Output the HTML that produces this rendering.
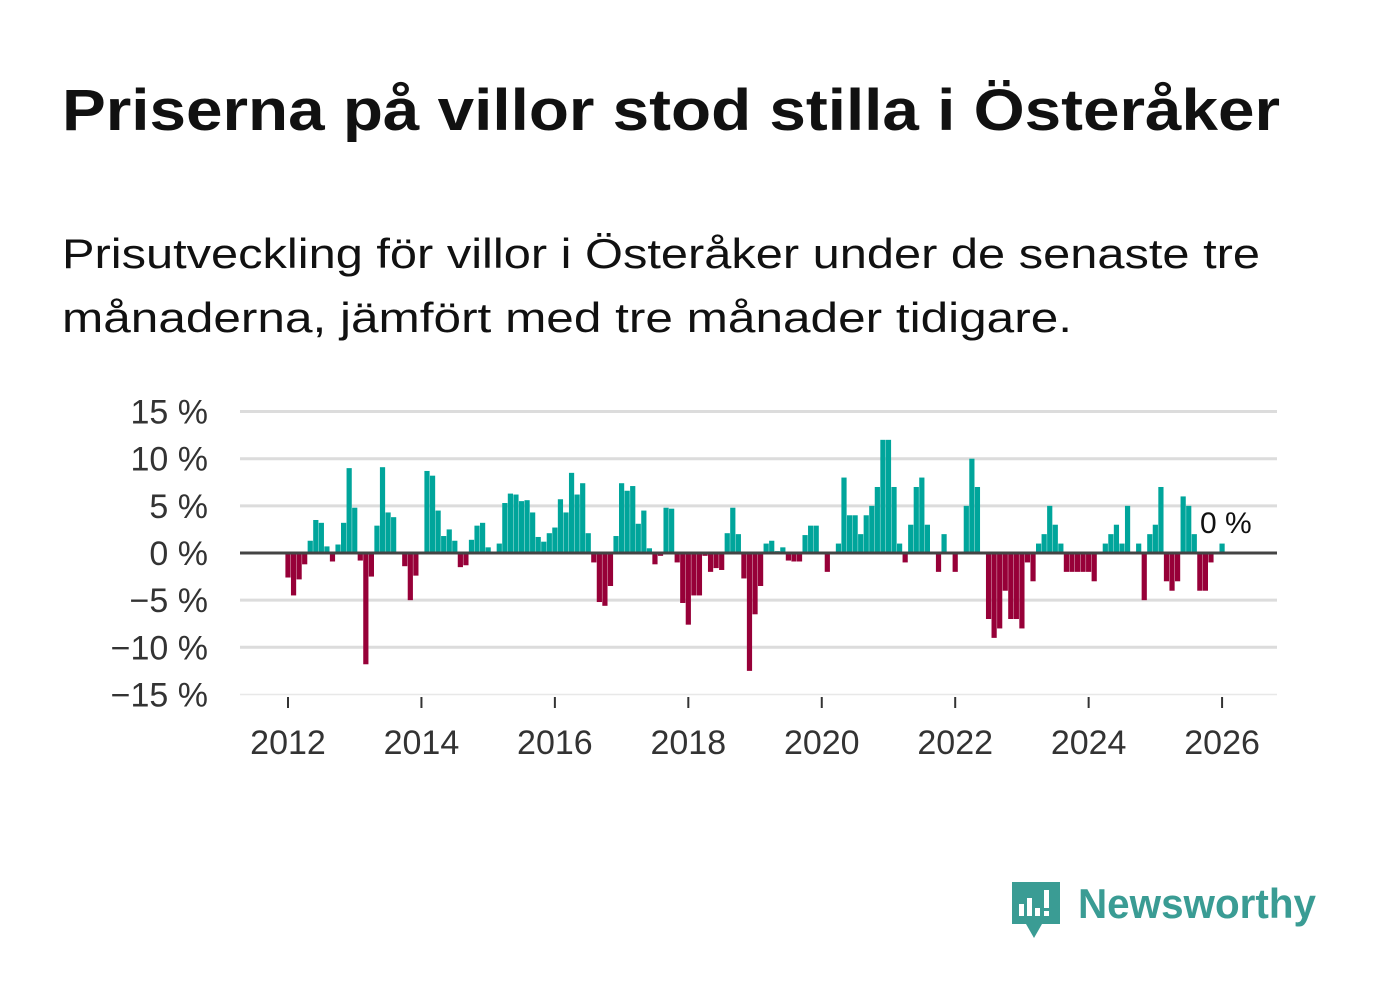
<!DOCTYPE html>
<html><head><meta charset="utf-8"><style>
html,body{margin:0;padding:0;background:#fff;}
svg{display:block;font-family:"Liberation Sans",sans-serif;}
</style></head><body>
<svg id="chart" width="1382" height="999" viewBox="0 0 1382 999">
<text x="62" y="130" font-size="58" font-weight="bold" fill="#111" textLength="1218" lengthAdjust="spacingAndGlyphs">Priserna på villor stod stilla i Österåker</text>
<text x="62" y="268" font-size="42" fill="#111" textLength="1198" lengthAdjust="spacingAndGlyphs">Prisutveckling för villor i Österåker under de senaste tre</text>
<text x="62" y="332" font-size="42" fill="#111" textLength="1010" lengthAdjust="spacingAndGlyphs">månaderna, jämfört med tre månader tidigare.</text>
<g id="grid"></g>
<g id="bars"></g>
<g id="axes"></g>
<text x="1200" y="533" font-size="30" fill="#111" stroke="#fff" stroke-width="6" paint-order="stroke">0 %</text>
<g>
<path d="M1012 882 h48 v42 h-18 l-8 14 l-8 -14 h-14 z" fill="#3a9c94"/>
<rect x="1019" y="904" width="5" height="12" fill="#fff"/>
<rect x="1027" y="898" width="5" height="18" fill="#fff"/>
<rect x="1035" y="908" width="5" height="8" fill="#fff"/>
<rect x="1044" y="890" width="5" height="18" fill="#fff"/>
<rect x="1044" y="911" width="5" height="5" fill="#fff"/>
<text x="1078" y="918" font-size="42" font-weight="bold" fill="#3a9c94" textLength="238" lengthAdjust="spacingAndGlyphs">Newsworthy</text>
</g>
</svg>
<script>
const startYear = 2012;
const values = [-2.6,-4.5,-2.8,-1.2,1.3,3.5,3.2,0.7,-0.9,0.9,3.2,9.0,4.8,-0.8,-11.8,-2.5,2.9,9.1,4.3,3.8,0,-1.4,-5.0,-2.4,0,8.7,8.2,4.5,1.8,2.5,1.3,-1.5,-1.3,1.4,2.9,3.2,0.6,0,1.0,5.3,6.3,6.2,5.5,5.6,4.3,1.7,1.2,2.1,2.7,5.7,
4.3,8.5,6.2,7.4,2.1,-1.0,-5.2,-5.6,-3.5,1.8,7.4,6.6,7.1,3.1,4.5,0.5,-1.2,-0.3,4.8,4.7,-1.0,-5.3,-7.6,-4.5,-4.5,-0.3,-2.0,-1.6,-1.8,2.1,4.8,2.0,-2.7,-12.5,-6.5,-3.5,1.0,1.3,0.2,0.6,-0.8,-0.9,-0.9,1.9,2.9,2.9,0,-2.0,
0,1.0,8.0,4.0,4.0,2.0,4.0,5.0,7.0,12.0,12.0,7.0,1.0,-1.0,3.0,7.0,8.0,3.0,0,-2.0,2.0,0,-2.0,0,5.0,10.0,7.0,0,-7.0,-9.0,-8.0,-4.0,-7.0,-7.0,-8.0,-1.0,-3.0,1.0,2.0,5.0,3.0,1.0,-2.0,-2.0,-2.0,-2.0,-2.0,-3.0,
0,1.0,2.0,3.0,1.0,5.0,0,1.0,-5.0,2.0,3.0,7.0,-3.0,-4.0,-3.0,6.0,5.0,2.0,-4.0,-4.0,-1.0,0,1.0];
const yTicks = [15,10,5,0,-5,-10,-15];
const yTickLabels = ["15 %","10 %","5 %","0 %","\u22125 %","\u221210 %","\u221215 %"];
const xTicks = [2012,2014,2016,2018,2020,2022,2024,2026];

const NS="http://www.w3.org/2000/svg";
function x(t){return 288+(t-2012)*66.72;}
function y(v){return 553-v*9.43;}
function mk(tag,attrs,parent){const e=document.createElementNS(NS,tag);for(const k in attrs)e.setAttribute(k,attrs[k]);parent.appendChild(e);return e;}
const grid=document.getElementById('grid'),bars=document.getElementById('bars'),axes=document.getElementById('axes');
yTicks.forEach((v,i)=>{
  if(v!==0){const l=mk('line',{x1:240,x2:1277,y1:y(v),y2:y(v),stroke:v===-15?'#e8e8e8':'#dcdcdc','stroke-width':v===-15?1.5:3},grid);
  
  }
  const t=mk('text',{x:208,y:y(v)+12,'font-size':34,fill:'#333','text-anchor':'end'},axes);
  t.textContent=yTickLabels[i];
  
  
});
values.forEach((v,i)=>{
  if(v===0)return;
  const cx=x(startYear+i/12);
  const r=mk('rect',{x:cx-2.6,width:5.2,y:v>0?y(v):y(0),height:Math.abs(y(v)-y(0)),fill:v>0?'#00a59b':'#970038'},bars);
  
  
});
const z=mk('line',{x1:240,x2:1277,y1:y(0),y2:y(0),stroke:'#444','stroke-width':3},axes);


xTicks.forEach(yr=>{
  const tk=mk('line',{x1:x(yr),x2:x(yr),y1:697,y2:708,stroke:'#333','stroke-width':2},axes);
  
  
  const t=mk('text',{x:x(yr),y:754,'font-size':34,fill:'#333','text-anchor':'middle'},axes);
  t.textContent=String(yr);
  
  
});
</script>
</body></html>
